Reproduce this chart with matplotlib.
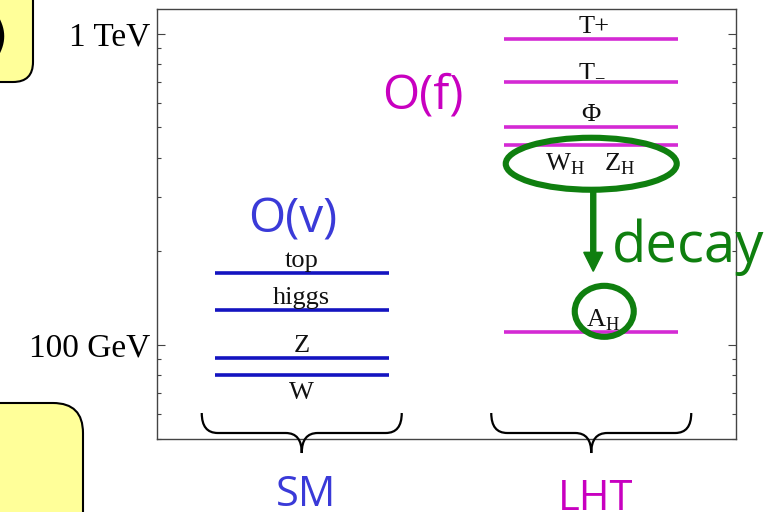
import matplotlib
matplotlib.use("Agg")
import matplotlib.pyplot as plt
from matplotlib.patches import Ellipse, FancyBboxPatch, PathPatch, FancyArrow
from matplotlib.path import Path
from matplotlib.transforms import Affine2D
from matplotlib.ticker import LogLocator, NullFormatter

# ---- mass spectrum (GeV) ----
sm_names = ["top", "higgs", "Z", "W"]
sm_masses = [170, 130, 91, 80]
sm_label_below = [False, False, False, True]

lht_names = ["T+", r"T$_\mathregular{-}$", "Φ",
             r"W$_\mathregular{H}$   Z$_\mathregular{H}$", r"A$_\mathregular{H}$"]
lht_masses = [960, 700, 500, 440, 110]
lht_label_below = [False, False, False, True, False]

group_names = ["SM", "LHT"]
group_centers = [0.25, 0.75]
scale_texts = ["O(v)", "O(f)"]

ytick_values = [100, 1000]
ytick_labels = ["100 GeV", "1 TeV"]

SM_LINE = "#1414c0"
LHT_LINE = "#d42ad4"
SM_TEXT = "#3a3ad8"
LHT_TEXT = "#c800c0"
GREEN = "#0f7f0f"
SERIF = ["Liberation Serif", "DejaVu Serif"]
SANS = ["Open Sans", "DejaVu Sans"]

W, H = 774, 512
fig = plt.figure(figsize=(W / 100, H / 100), dpi=100)
# pixel coordinates, origin at the top-left corner
pix = Affine2D().scale(1 / W, -1 / H).translate(0, 1) + fig.transFigure

ax = fig.add_axes([157 / W, 1 - 439 / H, (736 - 157) / W, (439 - 9) / H])
ax.set_yscale("log")
ax.set_ylim(50, 1200)
ax.set_xlim(0, 1)

for s in ax.spines.values():
    s.set_color("#444444")
    s.set_linewidth(1.0)

ax.set_yticks(ytick_values)
ax.set_yticklabels(ytick_labels, fontfamily=SERIF, fontsize=24)
ax.yaxis.set_minor_locator(LogLocator(base=10, subs=range(2, 10)))
ax.yaxis.set_minor_formatter(NullFormatter())
ax.set_xticks([])
ax.tick_params(axis="y", which="both", direction="in", left=True, right=True,
               color="#444444", width=0.8, pad=5)
ax.tick_params(axis="y", which="major", length=6)
ax.tick_params(axis="y", which="minor", length=3)

half = 0.15


def draw_levels(center, masses, names, below, color, dx_px=None):
    ax.hlines(masses, center - half, center + half, colors=color, lw=2.6, zorder=2)
    for i, (m, n, b) in enumerate(zip(masses, names, below)):
        dx = 0 if dx_px is None else dx_px[i]
        ax.annotate(n, xy=(center, m), xytext=(dx, -7 if b else 6),
                    textcoords="offset pixels", ha="center",
                    va="top" if b else "baseline",
                    fontfamily=SERIF, fontsize=19, color="#111111", zorder=3)


draw_levels(group_centers[0], sm_masses, sm_names, sm_label_below, SM_LINE)
draw_levels(group_centers[1], lht_masses, lht_names, lht_label_below, LHT_LINE,
            dx_px=[3, 1, 0, -1, 12])


def to_pix(x, m):
    dx, dy = ax.transData.transform((x, m))
    return dx, H - dy


# ---- decay highlight ----
wx, wy = to_pix(group_centers[1], lht_masses[3])
ax_px, ay_px = to_pix(group_centers[1], lht_masses[4])
fig.add_artist(Ellipse((wx, wy + 19), 171, 52, transform=pix, fill=False,
                       ec=GREEN, lw=4.4, zorder=5))
fig.add_artist(Ellipse((ax_px + 13, ay_px - 21), 59, 51, transform=pix, fill=False,
                       ec=GREEN, lw=4.4, zorder=5))
fig.add_artist(FancyArrow(wx + 2, wy + 46, 0, (ay_px - 61) - (wy + 46), width=5,
                          head_width=19, head_length=19, length_includes_head=True,
                          color=GREEN, transform=pix, zorder=5))
fig.text(612 / W, 1 - 262 / H, "decay", fontfamily=SANS, fontsize=40.5,
         color=GREEN, ha="left", va="baseline", zorder=6)

# ---- group scales and names ----
fig.text(293 / W, 1 - 233 / H, scale_texts[0], fontfamily=SANS, fontsize=34.5,
         color=SM_TEXT, ha="center", va="baseline")
fig.text(423 / W, 1 - 108 / H, scale_texts[1], fontfamily=SANS, fontsize=34.5,
         color=LHT_TEXT, ha="center", va="baseline")


def brace(cx, half_w=100, ytop=413, ymid=433, ytip=453, r=16):
    x0, x1 = cx - half_w, cx + half_w
    verts = [(x0, ytop), (x0, ymid), (x0 + r, ymid),
             (cx - r, ymid), (cx, ymid), (cx, ytip),
             (cx, ymid), (cx + r, ymid),
             (x1 - r, ymid), (x1, ymid), (x1, ytop)]
    codes = [Path.MOVETO, Path.CURVE3, Path.CURVE3,
             Path.LINETO, Path.CURVE3, Path.CURVE3,
             Path.CURVE3, Path.CURVE3,
             Path.LINETO, Path.CURVE3, Path.CURVE3]
    fig.add_artist(PathPatch(Path(verts, codes), transform=pix, fill=False,
                             ec="black", lw=1.6, zorder=4))


for name, c, col, base in zip(group_names, group_centers, [SM_TEXT, LHT_TEXT], [506, 510]):
    cx, _ = to_pix(c, 100)
    brace(cx)
    fig.text((cx + 4) / W, 1 - base / H, name, fontfamily=SANS, fontsize=30,
             color=col, ha="center", va="baseline")

# ---- side boxes ----
fig.add_artist(FancyBboxPatch((-40, -40), 73, 122, boxstyle="round,pad=0,rounding_size=20",
                              transform=pix, fc="#ffff99", ec="black", lw=1.5, zorder=1))
fig.text(8 / W, 1 - 38 / H, ")", fontfamily=["DejaVu Sans"], fontsize=36,
         color="black", ha="right", va="center", zorder=2)
fig.add_artist(FancyBboxPatch((-40, 403), 123, 160, boxstyle="round,pad=0,rounding_size=30",
                              transform=pix, fc="#ffff99", ec="black", lw=1.5, zorder=1))

fig.savefig("out.png", dpi=100)
